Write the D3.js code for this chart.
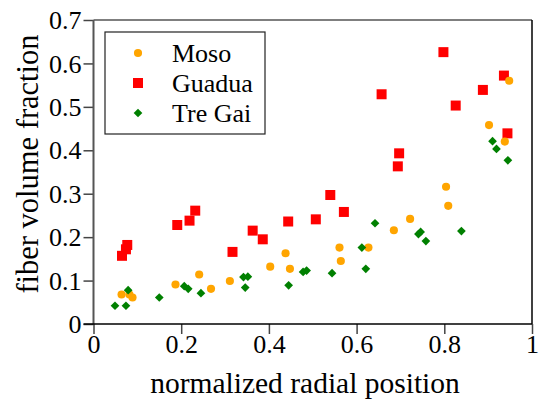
<!DOCTYPE html>
<html><head><meta charset="utf-8">
<script src="https://cdn.jsdelivr.net/npm/d3@7"></script>
<style>body{margin:0;background:#fff}svg{display:block}</style>
</head><body>
<svg id="c" width="541" height="414"></svg>
<script>
const mosoX = [0.064,0.082,0.089,0.187,0.241,0.268,0.311,0.403,0.438,0.448,0.561,0.564,0.627,0.685,0.722,0.804,0.809,0.902,0.938,0.948];
const mosoY = [0.068,0.068,0.061,0.091,0.114,0.081,0.099,0.132,0.163,0.127,0.176,0.145,0.176,0.216,0.242,0.316,0.272,0.458,0.420,0.560];
const guaduaX = [0.065,0.074,0.077,0.191,0.219,0.232,0.317,0.363,0.386,0.444,0.507,0.540,0.571,0.657,0.697,0.694,0.798,0.826,0.888,0.936,0.944];
const guaduaY = [0.157,0.172,0.182,0.228,0.238,0.261,0.166,0.215,0.195,0.236,0.241,0.297,0.258,0.529,0.393,0.363,0.626,0.503,0.539,0.572,0.439];
const tregaiX = [0.049,0.074,0.079,0.150,0.207,0.216,0.245,0.342,0.352,0.346,0.445,0.478,0.486,0.544,0.612,0.621,0.642,0.741,0.746,0.758,0.839,0.910,0.919,0.945];
const tregaiY = [0.042,0.042,0.078,0.061,0.087,0.081,0.071,0.108,0.109,0.084,0.089,0.120,0.123,0.117,0.176,0.127,0.232,0.207,0.212,0.191,0.214,0.421,0.403,0.377];
const xTicks = [0,0.2,0.4,0.6,0.8,1];
const yTicks = [0,0.1,0.2,0.3,0.4,0.5,0.6,0.7];
const seriesNames = ["Moso","Guadua","Tre Gai"];
const xTitle = "normalized radial position";
const yTitle = "fiber volume fraction";

const svg = d3.select("#c");
const font = "'Liberation Serif','Times New Roman',serif";
const x = d3.scaleLinear().domain([0,1]).range([93.5,532]);
const y = d3.scaleLinear().domain([0,0.7]).range([324,20]);

const fmt = d => d===0||d===1 ? String(d) : d3.format(".1f")(d);

const xa = svg.append("g").attr("transform","translate(0,324)")
  .call(d3.axisBottom(x).tickValues(xTicks).tickFormat(fmt).tickSize(10).tickSizeOuter(0));
const ya = svg.append("g").attr("transform","translate(93.5,0)")
  .call(d3.axisLeft(y).tickValues(yTicks).tickFormat(fmt).tickSize(10).tickSizeOuter(0));
[xa,ya].forEach(g=>{
  g.select(".domain").remove();
  g.selectAll("text").attr("font-family",font).attr("font-size",26).attr("fill","#000");
});
xa.selectAll(".tick line").attr("stroke","#444").attr("stroke-width",1.5);
ya.selectAll(".tick line").attr("stroke","#444").attr("stroke-width",1.5);
xa.selectAll("text").attr("dy","0.9em").attr("y",6);
ya.selectAll("text").attr("x",-12).attr("dy","0.33em");

// frame
svg.append("line").attr("x1",x(0)).attr("x2",x(1)).attr("y1",y(0.7)).attr("y2",y(0.7)).attr("stroke","#555").attr("stroke-width",1.5);
svg.append("line").attr("x1",x(1)).attr("x2",x(1)).attr("y1",y(0.7)).attr("y2",y(0)).attr("stroke","#000").attr("stroke-width",1.5);
svg.append("line").attr("x1",x(0)).attr("x2",x(0)).attr("y1",y(0.7)).attr("y2",y(0)).attr("stroke","#555").attr("stroke-width",2);
svg.append("line").attr("x1",x(0)-10).attr("x2",x(1)).attr("y1",y(0)).attr("y2",y(0)).attr("stroke","#000").attr("stroke-width",1.5);

const circ = d3.symbol().type(d3.symbolCircle).size(52)();
const sq = d3.symbol().type(d3.symbolSquare).size(100)();
const dia = d3.symbol().type(d3.symbolSquare).size(38)();

function plot(xs, ys, path, color, rot){
  svg.append("g").selectAll("path").data(xs.map((v,i)=>[v,ys[i]])).join("path")
    .attr("d",path).attr("fill",color)
    .attr("transform",d=>`translate(${x(d[0])},${y(d[1])})${rot?" rotate(45)":""}`);
}
plot(guaduaX,guaduaY,sq,"#ff0000",false);
plot(mosoX,mosoY,circ,"#ffa500",false);
plot(tregaiX,tregaiY,dia,"#008000",true);

// legend
const lg = svg.append("g");
lg.append("rect").attr("x",105).attr("y",32).attr("width",160).attr("height",102)
  .attr("fill","#fff").attr("stroke","#222").attr("stroke-width",1.2);
const legendItems = [[circ,"#ffa500",false],[sq,"#ff0000",false],[dia,"#008000",true]];
seriesNames.forEach((n,i)=>{
  const cy = 53 + i*30;
  lg.append("path").attr("d",legendItems[i][0]).attr("fill",legendItems[i][1])
    .attr("transform",`translate(138,${cy})${legendItems[i][2]?" rotate(45)":""}`);
  lg.append("text").attr("x",172).attr("y",cy+9).text(n)
    .attr("font-family",font).attr("font-size",26).attr("fill","#000");
});

svg.append("text").attr("x",305).attr("y",393).attr("text-anchor","middle")
  .attr("font-family",font).attr("font-size",29.5).attr("fill","#000").text(xTitle);
svg.append("text").attr("transform","translate(38,164) rotate(-90)").attr("text-anchor","middle")
  .attr("font-family",font).attr("font-size",30.5).attr("fill","#000").text(yTitle);
</script>
</body></html>
